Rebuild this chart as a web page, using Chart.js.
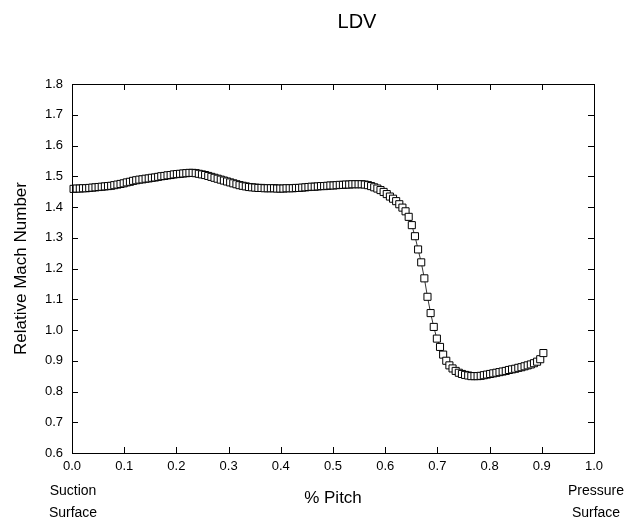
<!DOCTYPE html>
<html><head><meta charset="utf-8">
<script src="https://cdn.jsdelivr.net/npm/chart.js@4.4.0/dist/chart.umd.min.js"></script>
<style>html,body{margin:0;padding:0;background:#fff}#wrap{width:640px;height:523px;position:relative}</style>
</head><body><div id="wrap"><canvas id="c" width="640" height="523"></canvas></div>
<script>
const chartTitle = 'LDV';
const xTitle = '% Pitch';
const yTitle = 'Relative Mach Number';
const leftNote = ['Suction', 'Surface'];
const rightNote = ['Pressure', 'Surface'];
const xTicks = [0.0, 0.1, 0.2, 0.3, 0.4, 0.5, 0.6, 0.7, 0.8, 0.9, 1.0];
const yTicks = [0.6, 0.7, 0.8, 0.9, 1.0, 1.1, 1.2, 1.3, 1.4, 1.5, 1.6, 1.7, 1.8];

const pitch = [
0.003,0.009,0.015,0.021,0.027,0.033,0.039,0.045,0.051,0.057,
0.063,0.069,0.075,0.081,0.087,0.093,0.099,0.105,0.111,0.117,
0.123,0.129,0.135,0.141,0.147,0.153,0.159,0.165,0.171,0.177,
0.183,0.189,0.195,0.201,0.207,0.213,0.219,0.225,0.231,0.237,
0.243,0.249,0.255,0.261,0.267,0.273,0.279,0.285,0.291,0.297,
0.303,0.309,0.315,0.321,0.327,0.333,0.339,0.345,0.351,0.357,
0.363,0.369,0.375,0.381,0.387,0.393,0.399,0.405,0.411,0.417,
0.423,0.429,0.435,0.441,0.447,0.453,0.459,0.465,0.471,0.477,
0.483,0.489,0.495,0.501,0.507,0.513,0.519,0.525,0.531,0.537,
0.543,0.549,0.555,0.561,0.567,0.573,0.579,0.585,0.591,0.597,
0.603,0.609,0.615,0.621,0.627,0.633,0.639,0.645,0.651,0.657,
0.663,0.669,0.675,0.681,0.687,0.693,0.699,0.705,0.711,0.717,
0.723,0.729,0.735,0.741,0.747,0.753,0.759,0.765,0.771,0.777,
0.783,0.789,0.795,0.801,0.807,0.813,0.819,0.825,0.831,0.837,
0.843,0.849,0.855,0.861,0.867,0.873,0.879,0.885,0.891,0.897,
0.903];

const mach = [
1.459,1.460,1.460,1.461,1.461,1.462,1.463,1.464,1.465,1.466,
1.467,1.468,1.469,1.471,1.473,1.475,1.477,1.480,1.482,1.485,
1.487,1.489,1.490,1.492,1.493,1.495,1.496,1.498,1.500,1.501,
1.503,1.504,1.506,1.507,1.508,1.509,1.510,1.511,1.511,1.510,
1.508,1.506,1.504,1.501,1.498,1.495,1.492,1.489,1.486,1.483,
1.480,1.477,1.474,1.471,1.469,1.467,1.465,1.464,1.463,1.462,
1.462,1.461,1.461,1.461,1.461,1.460,1.460,1.460,1.461,1.461,
1.461,1.462,1.462,1.463,1.464,1.465,1.466,1.466,1.467,1.468,
1.468,1.469,1.470,1.470,1.471,1.472,1.472,1.473,1.473,1.474,
1.474,1.474,1.474,1.473,1.471,1.468,1.464,1.460,1.455,1.449,
1.442,1.434,1.427,1.419,1.409,1.398,1.386,1.368,1.341,1.305,
1.262,1.220,1.168,1.108,1.055,1.010,0.972,0.945,0.920,0.900,
0.885,0.875,0.867,0.861,0.857,0.854,0.852,0.850,0.850,0.850,
0.851,0.853,0.855,0.857,0.859,0.861,0.863,0.865,0.867,0.870,
0.872,0.874,0.877,0.879,0.882,0.885,0.888,0.892,0.897,0.905,
0.925];

const FONT = "'Liberation Sans', Arial, sans-serif";

const framePlugin = {
  id: 'frame',
  afterDraw(chart) {
    const ctx = chart.ctx;
    const a = chart.chartArea;
    const xs = chart.scales.x, ys = chart.scales.y;
    ctx.save();
    ctx.strokeStyle = '#000';
    ctx.lineWidth = 1;
    ctx.strokeRect(Math.round(a.left) + 0.5, Math.round(a.top) + 0.5,
                   Math.round(a.right - a.left), Math.round(a.bottom - a.top));
    const L = 6;
    ctx.beginPath();
    xTicks.forEach(v => {
      const p = Math.round(xs.getPixelForValue(v)) + 0.5;
      ctx.moveTo(p, a.bottom); ctx.lineTo(p, a.bottom - L);
      ctx.moveTo(p, a.top); ctx.lineTo(p, a.top + L);
    });
    yTicks.forEach(v => {
      const p = Math.round(ys.getPixelForValue(v)) + 0.5;
      ctx.moveTo(a.left, p); ctx.lineTo(a.left + L, p);
      ctx.moveTo(a.right, p); ctx.lineTo(a.right - L, p);
    });
    ctx.stroke();

    ctx.fillStyle = '#000';
    ctx.font = '20px ' + FONT;
    ctx.textAlign = 'center';
    ctx.textBaseline = 'alphabetic';
    ctx.fillText(chartTitle, 357, 28);
    ctx.font = '17px ' + FONT;
    ctx.fillText(xTitle, 333, 503);
    ctx.font = '14px ' + FONT;
    const x0 = xs.getPixelForValue(xTicks[0]);
    const x1 = xs.getPixelForValue(xTicks[xTicks.length - 1]);
    ctx.fillText(leftNote[0], x0 + 1, 495);
    ctx.fillText(leftNote[1], x0 + 1, 517);
    ctx.fillText(rightNote[0], x1 + 2, 495);
    ctx.fillText(rightNote[1], x1 + 2, 517);
    ctx.save();
    ctx.translate(26, (a.top + a.bottom) / 2);
    ctx.rotate(-Math.PI / 2);
    ctx.font = '17px ' + FONT;
    ctx.fillText(yTitle, 0, 0);
    ctx.restore();
    ctx.restore();
  }
};

new Chart(document.getElementById('c'), {
  type: 'scatter',
  data: {
    datasets: [{
      data: pitch.map((p, i) => ({ x: p, y: mach[i] })),
      showLine: true,
      borderColor: '#000',
      borderWidth: 0.8,
      pointStyle: 'rect',
      pointRadius: 5,
      pointBorderColor: '#000',
      pointBackgroundColor: '#fff',
      pointBorderWidth: 1,
      clip: false
    }]
  },
  options: {
    responsive: false,
    animation: false,
    layout: { padding: { left: 0, right: 46, top: 84, bottom: 0 } },
    plugins: { legend: { display: false }, tooltip: { enabled: false }, title: { display: false } },
    scales: {
      x: {
        type: 'linear', min: 0, max: 1,
        afterBuildTicks: s => { s.ticks = xTicks.map(v => ({ value: v })); },
        afterFit: s => { s.height = 70; },
        grid: { display: false, drawTicks: false },
        border: { display: false },
        ticks: { color: '#000', font: { family: FONT, size: 13 }, padding: 6, maxRotation: 0,
                 callback: v => Number(v).toFixed(1) }
      },
      y: {
        type: 'linear', min: 0.6, max: 1.8,
        afterBuildTicks: s => { s.ticks = yTicks.map(v => ({ value: v })); },
        afterFit: s => { s.width = 72; },
        grid: { display: false, drawTicks: false },
        border: { display: false },
        ticks: { color: '#000', font: { family: FONT, size: 13 }, padding: 9,
                 callback: v => Number(v).toFixed(1) }
      }
    }
  },
  plugins: [framePlugin]
});
</script></body></html>
